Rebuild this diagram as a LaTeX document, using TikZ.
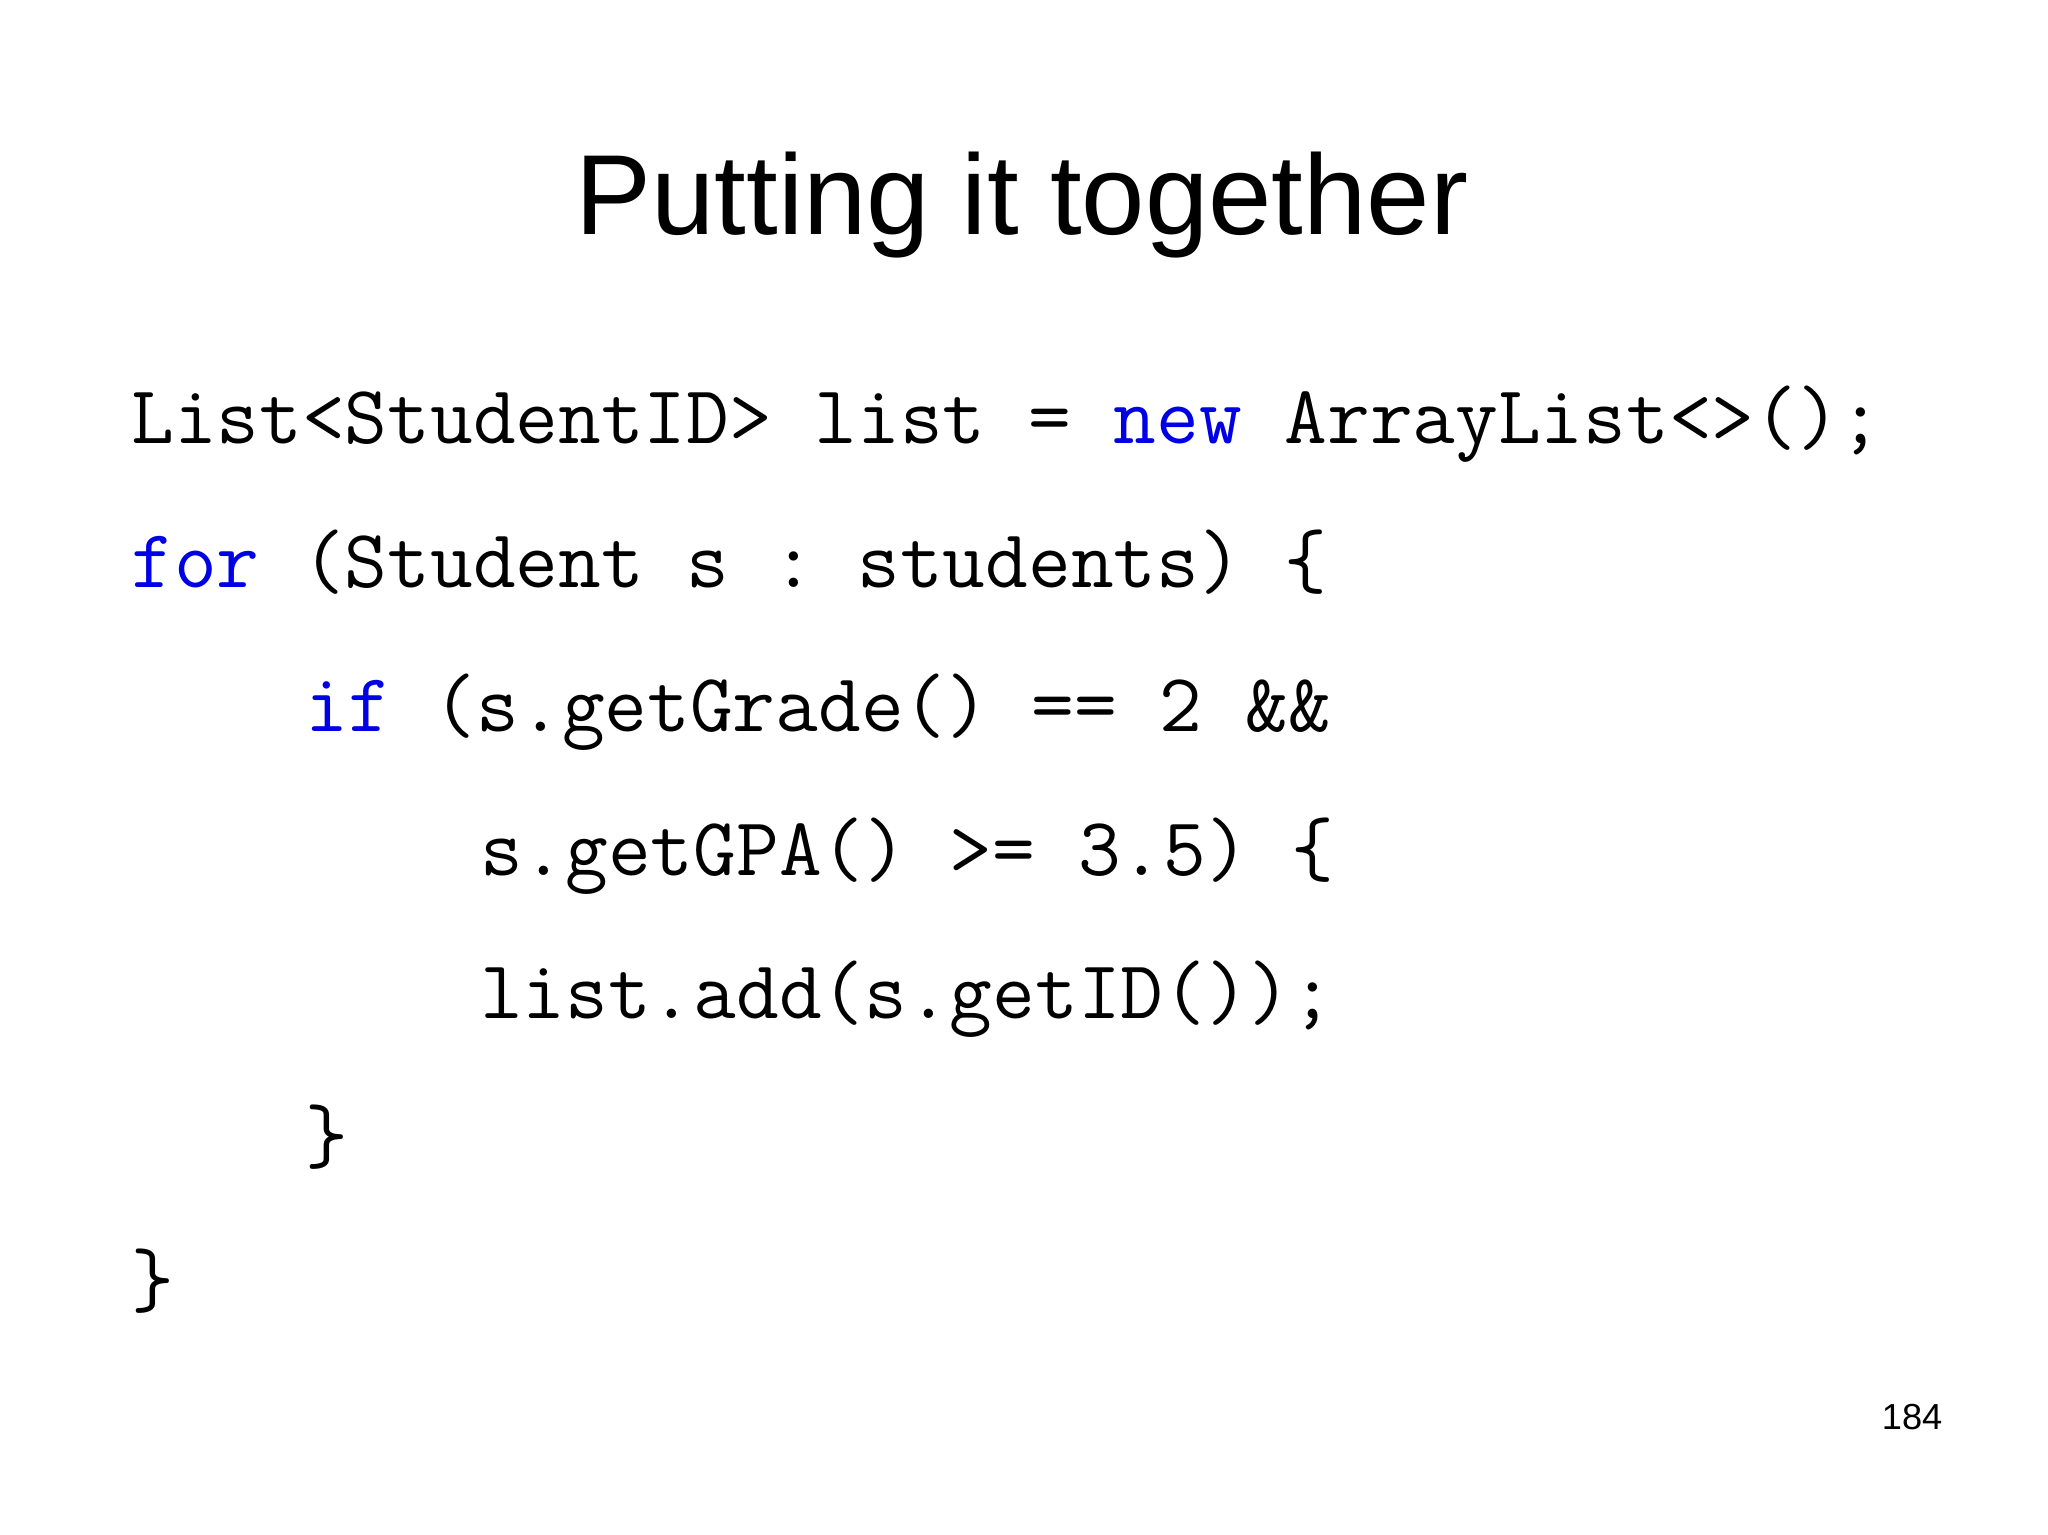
\documentclass[tikz,border=0pt]{standalone}
\usepackage{fontspec}
\setmainfont{Liberation Sans}
\definecolor{kw}{RGB}{0,0,230}
\frenchspacing
\begin{document}
\begin{tikzpicture}[x=1cm,y=1cm,
  code/.style={anchor=base west,inner sep=0pt,font=\ttfamily\fontsize{23.6pt}{28pt}\selectfont}]
\useasboundingbox (0,0) rectangle (20.48,15.35);
\node[anchor=base,inner sep=0pt,font=\fontsize{32.4pt}{38pt}\selectfont] (title) at (10.22,13.0) {Putting it together};
\def\cw{0.436}
\def\lh{1.437}
\node[code] (l1) at (1.306,10.91) {List<StudentID> list = \textcolor{kw}{new} ArrayList<>();};
\node[code] (l2) at (1.306,10.91-\lh) {\textcolor{kw}{for} (Student s : students) \{};
\node[code] (l3) at (1.306+4*\cw,10.91-2*\lh) {\textcolor{kw}{if} (s.getGrade() == 2 \&\&};
\node[code] (l4) at (1.306+8*\cw,10.91-3*\lh) {s.getGPA() >= 3.5) \{};
\node[code] (l5) at (1.306+8*\cw,10.91-4*\lh) {list.add(s.getID());};
\node[code] (l6) at (1.306+4*\cw,10.91-5*\lh) {\}};
\node[code] (l7) at (1.306,10.91-6*\lh) {\}};
\node[anchor=base east,inner sep=0pt,font=\fontsize{10.3pt}{12pt}\selectfont] (pg) at (19.43,1.05) {184};
\end{tikzpicture}
\end{document}
